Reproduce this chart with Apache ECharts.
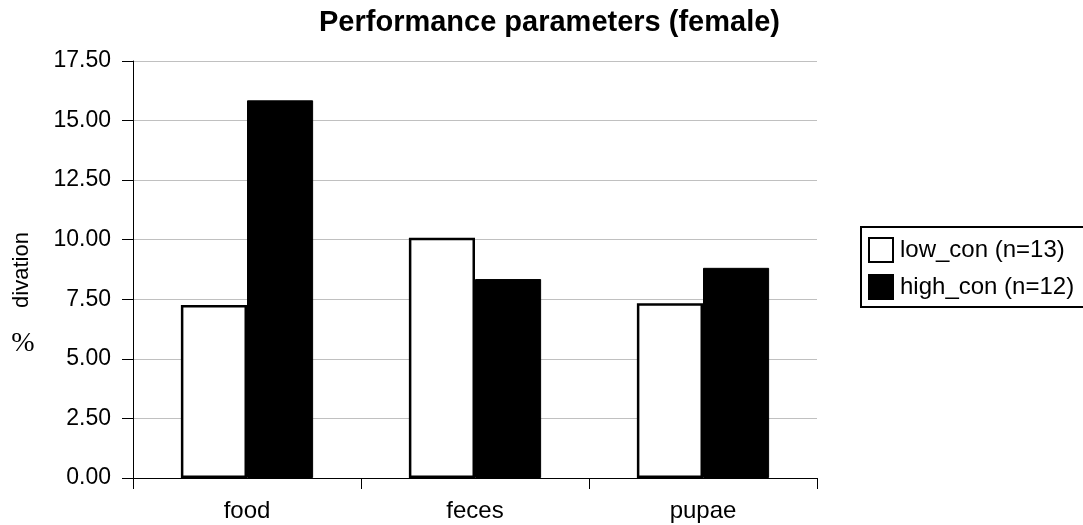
<!DOCTYPE html>
<html>
<head>
<meta charset="utf-8">
<script src="https://cdn.jsdelivr.net/npm/echarts@6/dist/echarts.min.js"></script>
<style>
html,body{margin:0;padding:0;background:#fff;}
#chart{width:1083px;height:525px;}
</style>
</head>
<body>
<div id="chart"></div>
<script>
const categories = ['food', 'feces', 'pupae'];
const lowCon = [7.26, 10.08, 7.33];
const highCon = [15.85, 8.35, 8.82];
const seriesNames = ['low_con (n=13)', 'high_con (n=12)'];
const yTicks = { min: 0, max: 17.5, interval: 2.5 };

const FONT = '"Liberation Sans", Arial, sans-serif';
const chart = echarts.init(document.getElementById('chart'), null, { renderer: 'canvas' });

chart.setOption({
  backgroundColor: '#ffffff',
  animation: false,
  title: {
    text: 'Performance parameters (female)',
    left: 319,
    top: 8,
    padding: 0,
    textStyle: { fontFamily: FONT, fontSize: 29, fontWeight: 'bold', color: '#000' }
  },
  legend: {
    orient: 'vertical',
    left: 861,
    top: 227,
    padding: [10, 30, 7, 7],
    itemWidth: 24,
    itemHeight: 24,
    itemGap: 11,
    borderColor: '#000',
    borderWidth: 2,
    icon: 'rect',
    data: seriesNames,
    textStyle: { fontFamily: FONT, fontSize: 24, color: '#000', padding: [0, 0, 0, 2] }
  },
  grid: { left: 133, right: 266, top: 61, bottom: 47 },
  xAxis: {
    type: 'category',
    data: categories,
    boundaryGap: true,
    axisLine: { show: true, lineStyle: { color: '#000', width: 1 } },
    axisTick: { show: true, length: 11, alignWithLabel: false, lineStyle: { color: '#000' } },
    axisLabel: { margin: 21, fontFamily: FONT, fontSize: 24, color: '#000' },
    splitLine: { show: false }
  },
  yAxis: {
    type: 'value',
    min: yTicks.min,
    max: yTicks.max,
    interval: yTicks.interval,
    axisLine: { show: true, lineStyle: { color: '#000', width: 1 } },
    axisTick: { show: true, length: 11, lineStyle: { color: '#000' } },
    axisLabel: {
      margin: 22, fontFamily: FONT, fontSize: 23, color: '#000',
      formatter: v => v.toFixed(2)
    },
    splitLine: { show: true, lineStyle: { color: '#c0c0c0', width: 1 } }
  },
  series: [
    {
      name: seriesNames[0],
      type: 'bar',
      data: lowCon,
      barWidth: '29%',
      barGap: '0%',
      itemStyle: { color: '#ffffff', borderColor: '#000', borderWidth: 2.5 }
    },
    {
      name: seriesNames[1],
      type: 'bar',
      data: highCon,
      barWidth: '29%',
      barGap: '0%',
      itemStyle: { color: '#000000', borderColor: '#000', borderWidth: 1 }
    }
  ],
  graphic: [
    {
      type: 'text',
      x: 22, y: 270,
      rotation: Math.PI / 2,
      style: {
        text: 'divation',
        font: '22px ' + FONT,
        fill: '#000',
        textAlign: 'center',
        textVerticalAlign: 'middle'
      }
    },
    {
      type: 'text',
      x: 23, y: 344,
      style: {
        text: '%',
        font: '28px "Liberation Serif", "Times New Roman", serif',
        fill: '#000',
        textAlign: 'center',
        textVerticalAlign: 'middle'
      }
    }
  ]
});
</script>
</body>
</html>
